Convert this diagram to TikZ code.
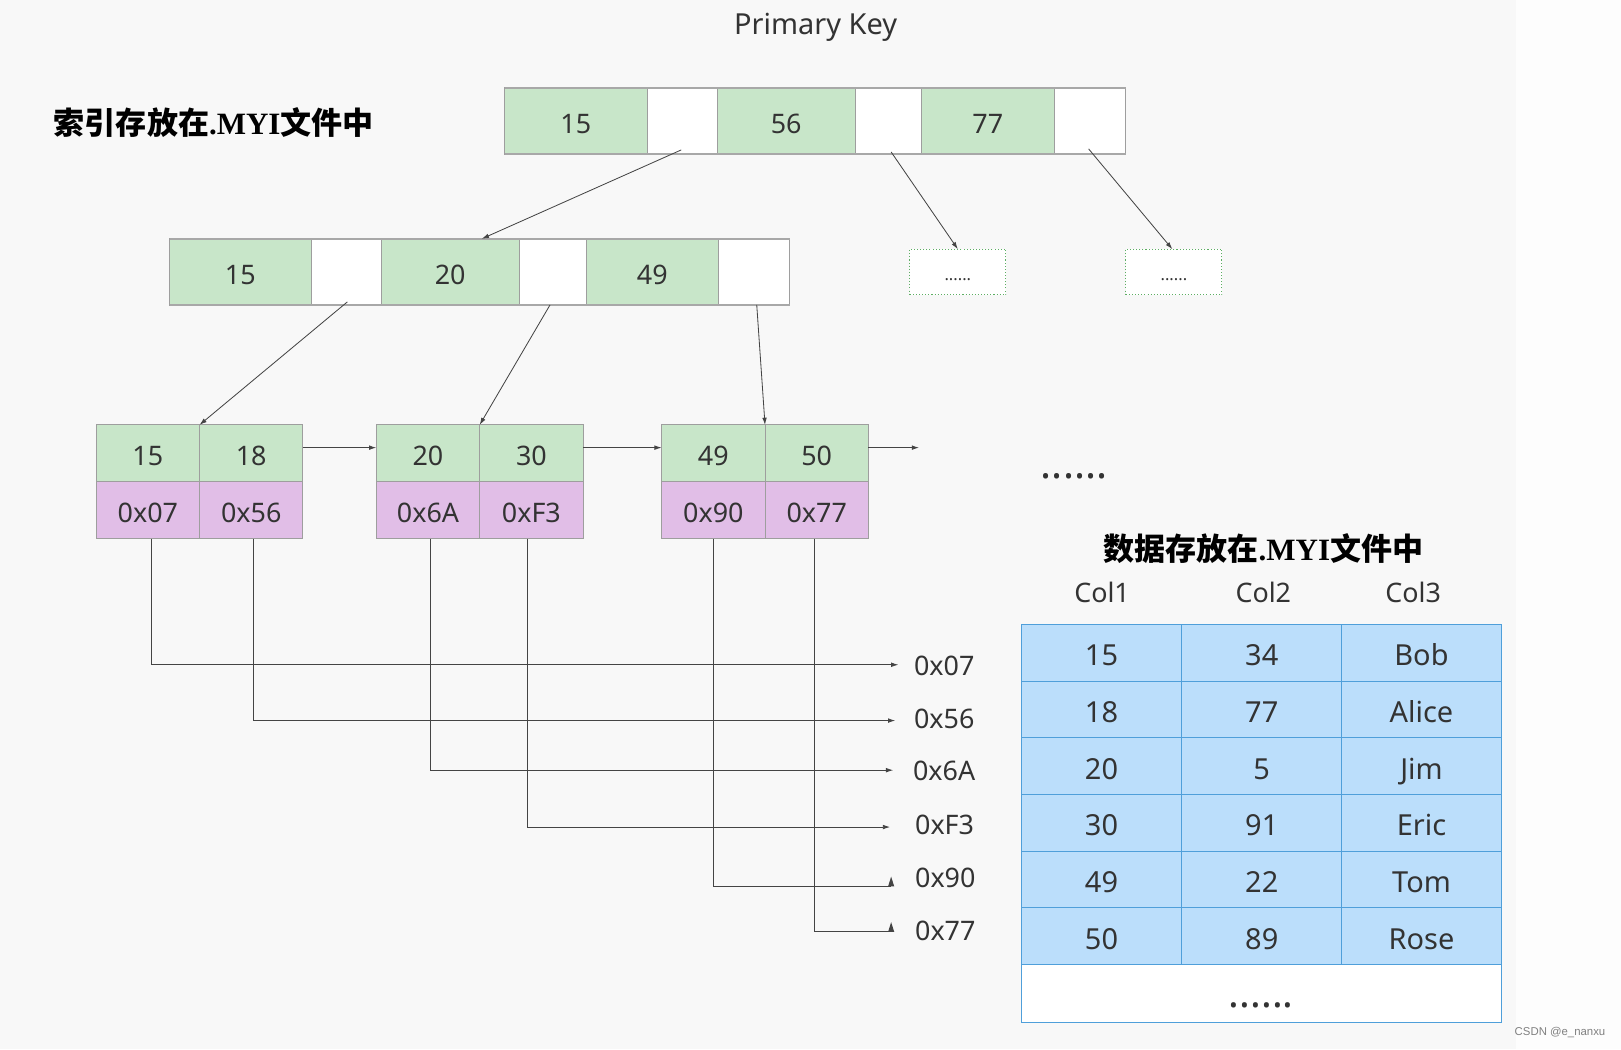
\documentclass[tikz,border=0pt]{standalone}
\usepackage{fontspec}
\setmainfont{Noto Sans}
\newfontfamily\cjk{Noto Sans CJK SC}
\newfontfamily\serifb{Liberation Serif}
\newfontfamily\wmfont{Liberation Sans}
\usetikzlibrary{arrows.meta}
\definecolor{bg}{HTML}{F8F8F8}
\definecolor{bgr}{HTML}{FDFDFD}
\definecolor{gfill}{HTML}{C8E6C9}
\definecolor{pfill}{HTML}{E1BEE7}
\definecolor{bfill}{HTML}{BBDEFB}
\definecolor{bline}{HTML}{4F9FDA}
\definecolor{txt}{HTML}{333333}
\definecolor{ln}{HTML}{444444}
\definecolor{cellline}{HTML}{9E9E9E}
\definecolor{edge}{HTML}{A8A8A8}
\definecolor{dotgreen}{HTML}{5DAE63}
\begin{document}
\begin{tikzpicture}[x=1pt,y=-1pt,
  base/.style={anchor=north west, inner sep=0pt, outer sep=0pt, text=txt, font=\fontsize{26}{30}\selectfont, text height=24pt, text depth=0pt},
  gcell/.style={base, draw=cellline, fill=gfill, line width=0.8pt},
  wcell/.style={base, draw=cellline, fill=white, line width=0.8pt},
  pcell/.style={base, draw=cellline, fill=pfill, line width=0.8pt},
  leafbox/.style={minimum width=100pt, minimum height=55pt},
  topbox/.style={minimum height=64pt},
  tcell/.style={base, draw=bline, fill=bfill, line width=1pt, minimum height=54.83pt, font=\fontsize{28}{32}\selectfont, text height=25pt},
  dotbox/.style={base, draw=dotgreen, dotted, line width=1pt, fill=white, minimum width=93pt, minimum height=44pt, font=\fontsize{16}{18}\selectfont, text height=17pt},
  label/.style={inner sep=0pt, text=txt, font=\fontsize{26}{30}\selectfont},
  arr/.style={draw=ln, line width=0.8pt, -{Latex[length=7pt,width=4.5pt]}},
  plain/.style={draw=ln, line width=0.8pt},
  thickedge/.style={draw=edge, line width=2pt}
]
\useasboundingbox (0,0) rectangle (1568,1015);
\fill[bg] (0,0) rectangle (1466,1015);
\fill[bgr] (1466,0) rectangle (1568,1015);

% titles
\node[label, font=\fontsize{28}{32}\selectfont] (title) at (789,26) {Primary Key};
\node[anchor=west, inner sep=0pt, text=black, font=\fontsize{30}{32}\selectfont\bfseries] (idxlbl) at (52,119)
  {{\cjk\bfseries 索引存放在}{\serifb\bfseries .MYI}{\cjk\bfseries 文件中}};

% root node
\node[gcell, topbox, minimum width=138pt] (r1) at (488,85) {15};
\node[wcell, topbox, minimum width=68pt] (r1w) at (626,85) {};
\node[gcell, topbox, minimum width=133pt] (r2) at (694,85) {56};
\node[wcell, topbox, minimum width=64pt] (r2w) at (827,85) {};
\node[gcell, topbox, minimum width=129pt] (r3) at (891,85) {77};
\node[wcell, topbox, minimum width=69pt] (r3w) at (1020,85) {};
\draw[thickedge] (r1.north west) -- (r3w.north east);
\draw[thickedge] (r1.south west) -- (r3w.south east);

% second level
\node[gcell, topbox, minimum width=137pt] (s1) at (164,231) {15};
\node[wcell, topbox, minimum width=68pt] (s1w) at (301,231) {};
\node[gcell, topbox, minimum width=133pt] (s2) at (369,231) {20};
\node[wcell, topbox, minimum width=65pt] (s2w) at (502,231) {};
\node[gcell, topbox, minimum width=128pt] (s3) at (567,231) {49};
\node[wcell, topbox, minimum width=69pt] (s3w) at (695,231) {};
\draw[thickedge] (s1.north west) -- (s3w.north east);
\draw[thickedge] (s1.south west) -- (s3w.south east);

% dotted placeholder nodes
\node[dotbox] (d1) at (880,241) {......};
\node[dotbox] (d2) at (1089,241) {......};

% root arrows
\draw[arr] ([xshift=-1pt,yshift=4pt]r1w.south) -- ([xshift=30.5pt]s2.north);
\draw[arr] ([xshift=3pt,yshift=2pt]r2w.south) -- (d1.north);
\draw[arr] ([xshift=-1.5pt,yshift=5pt]r3w.south) -- ([xshift=-1.5pt]d2.north);

% leaves
\node[gcell, leafbox] (l1a) at (93,411) {15};
\node[gcell, leafbox] (l1b) at (193,411) {18};
\node[pcell, leafbox] (l1c) at (93,466) {0x07};
\node[pcell, leafbox] (l1d) at (193,466) {0x56};
\node[gcell, leafbox] (l2a) at (364,411) {20};
\node[gcell, leafbox] (l2b) at (464,411) {30};
\node[pcell, leafbox] (l2c) at (364,466) {0x6A};
\node[pcell, leafbox] (l2d) at (464,466) {0xF3};
\node[gcell, leafbox] (l3a) at (640,411) {49};
\node[gcell, leafbox] (l3b) at (740,411) {50};
\node[pcell, leafbox] (l3c) at (640,466) {0x90};
\node[pcell, leafbox] (l3d) at (740,466) {0x77};

% second-level arrows
\draw[arr] ([xshift=1pt,yshift=3pt]s1w.south) -- (l1a.north east);
\draw[arr] ([xshift=-2.5pt]s2w.south) -- (l2a.north east);
\draw[arr] ([xshift=2.5pt]s3w.south) -- (l3a.north east);

% leaf links
\coordinate (nextleaf) at (889,433);
\draw[arr] ([yshift=5.5pt]l1b.east) -- ([yshift=5.5pt]l2a.west);
\draw[arr] ([yshift=5.5pt]l2b.east) -- ([yshift=5.5pt]l3a.west);
\draw[arr] ([yshift=5.5pt]l3b.east) -- (nextleaf);

\node[inner sep=0pt, text=txt, font=\fontsize{40}{42}\selectfont\bfseries] (moredots) at (1039,461) {......};

% address labels
\node[label, anchor=west] (q1) at (884,644) {0x07};
\node[label, anchor=west] (q2) at (884,695) {0x56};
\node[label, anchor=west] (q3) at (883,746) {0x6A};
\node[label, anchor=west] (q4) at (885,798) {0xF3};
\node[label, anchor=west] (q5) at (885,849) {0x90};
\node[label, anchor=west] (q6) at (885,900) {0x77};
\coordinate (e1) at (869,643);
\coordinate (e2) at (866,697);
\coordinate (e3) at (864,745);
\coordinate (e4) at (861,800);
\coordinate (e5) at (862,857);
\coordinate (e6) at (862,901);

\draw[arr] ([xshift=3pt]l1c.south) |- (e1);
\draw[arr] ([xshift=2pt]l1d.south) |- (e2);
\draw[arr] ([xshift=2pt]l2c.south) |- (e3);
\draw[arr] ([xshift=-4pt]l2d.south) |- (e4);
\draw[plain] (l3c.south) |- (e5);
\draw[plain] ([xshift=-2pt]l3d.south) |- (e6);
\fill[ln] (e5) ++(-3,0.5) -- ++(6,0) -- ++(-3,-9.5) -- cycle;
\fill[ln] (e6) ++(-3,0.5) -- ++(6,0) -- ++(-3,-9.5) -- cycle;

% data table
\node[inner sep=0pt, text=black, font=\fontsize{30}{32}\selectfont] (datalbl) at (1222,531)
  {{\cjk\bfseries 数据存放在}{\serifb\bfseries .MYI}{\cjk\bfseries 文件中}};
\node[label] (h1) at (1066,573) {Col1};
\node[label] (h2) at (1222,573) {Col2};
\node[label] (h3) at (1367,573) {Col3};

\foreach \r/\a/\b/\c in {0/15/34/Bob,1/18/77/Alice,2/20/5/Jim,3/30/91/Eric,4/49/22/Tom,5/50/89/Rose}{
  \node[tcell, minimum width=155pt] (t\r a) at (988,604+54.83*\r) {\a};
  \node[tcell, minimum width=155pt] (t\r b) at (1143,604+54.83*\r) {\b};
  \node[tcell, minimum width=154pt] (t\r c) at (1298,604+54.83*\r) {\c};
}
\node[base, draw=bline, fill=white, line width=1pt, minimum width=464pt, minimum height=56pt,
  font=\fontsize{39}{40}\selectfont\bfseries, text height=27pt] (tmore) at (988,933) {......};

% watermark
\node[anchor=east, inner sep=0pt, text=gray, font=\wmfont\fontsize{11}{12}\selectfont] (wm) at (1553,999) {CSDN @e\_nanxu};
\end{tikzpicture}
\end{document}
